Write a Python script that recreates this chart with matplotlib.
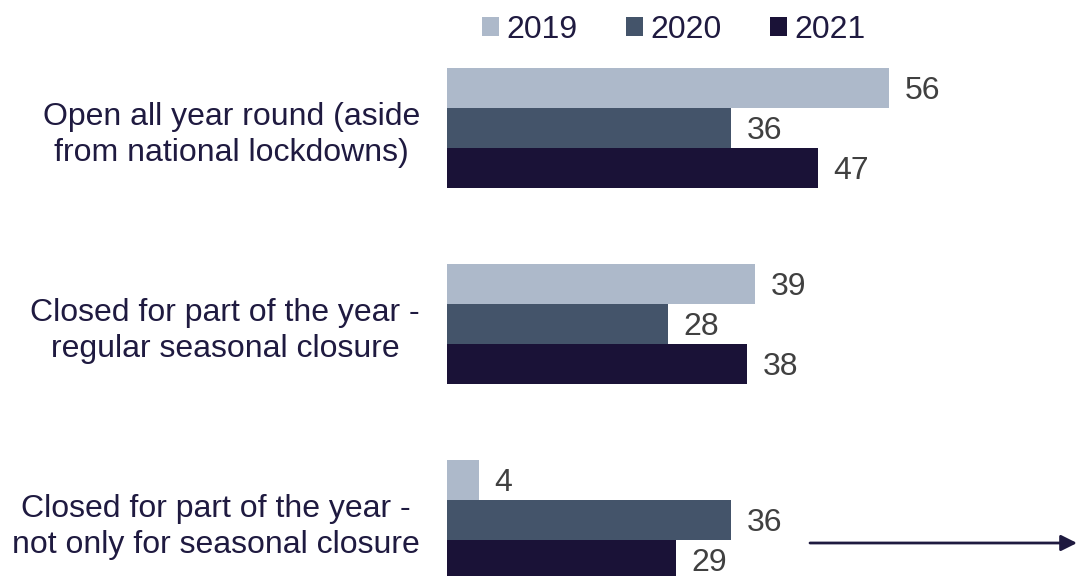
import matplotlib.pyplot as plt
import numpy as np

plt.rcParams['font.family'] = ['Liberation Sans', 'DejaVu Sans']

categories = [
    "Open all year round (aside\nfrom national lockdowns)",
    "Closed for part of the year -\nregular seasonal closure",
    "Closed for part of the year -\nnot only for seasonal closure",
]
years = ["2019", "2020", "2021"]
values = {
    "2019": [56, 39, 4],
    "2020": [36, 28, 36],
    "2021": [47, 38, 29],
}
colors = {"2019": "#ADB9CA", "2020": "#44546A", "2021": "#1A1237"}

navy = "#1F1A40"
grey = "#404040"

fig = plt.figure(figsize=(10.77, 5.76), dpi=100)
ax = fig.add_axes([0, 0, 1, 1])

y = np.arange(len(categories))
h = 40 / 196
offsets = [-h, 0, h]

for yr, off in zip(years, offsets):
    bars = ax.barh(y + off, values[yr], height=h, color=colors[yr], label=yr)
    for b, v in zip(bars, values[yr]):
        ax.text(v + 2.0, b.get_y() + h / 2 + 0.016, str(v), va='center', ha='left',
                fontsize=23, color=grey)

# zero at x=447 px, 7.89 px per unit
ax.set_xlim(-447 / 7.89, (1077 - 447) / 7.89)
ax.set_ylim((576 - 128) / 196, -128 / 196)

ax.set_yticks(y)
ax.set_yticklabels(categories, fontsize=23, color=navy, multialignment='center',
                   linespacing=1.3)
ax.tick_params(axis='y', length=0, pad=0)
for lbl in ax.get_yticklabels():
    lbl.set_transform(ax.get_yaxis_transform())
    lbl.set_x((447 - 27) / 1077)
ax.set_xticks([])
for s in ax.spines.values():
    s.set_visible(False)
ax.patch.set_alpha(0)

leg = fig.legend(loc='center', bbox_to_anchor=(674 / 1077, 1 - 30 / 576), ncol=3,
                 frameon=False, fontsize=23, handlelength=0.53, handleheight=0.53,
                 handletextpad=0.25, columnspacing=1.5, borderpad=0)
for t in leg.get_texts():
    t.set_color(navy)

ax.annotate('', xy=(1077 / 1077, 1 - 543 / 576), xytext=(810 / 1077, 1 - 543 / 576),
            xycoords='figure fraction', textcoords='figure fraction',
            arrowprops=dict(arrowstyle='-|>', color=navy, lw=2, mutation_scale=24,
                            shrinkA=0, shrinkB=0))

fig.savefig('out.png', dpi=100)
